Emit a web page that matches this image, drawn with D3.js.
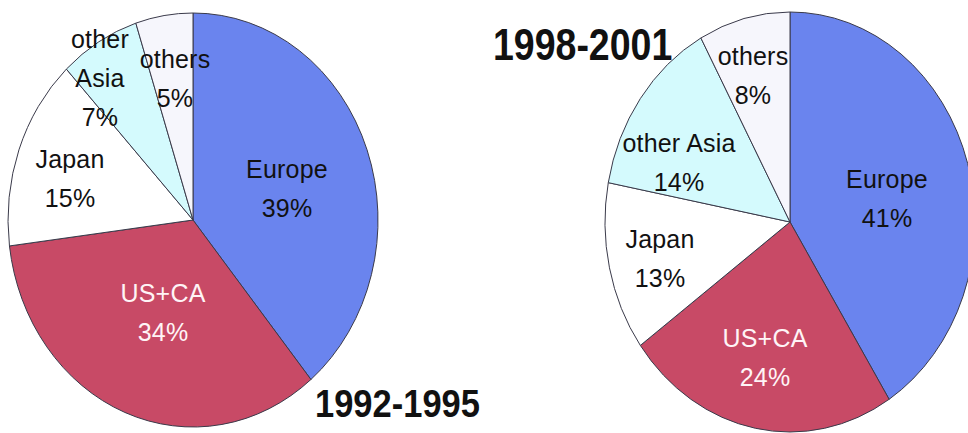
<!DOCTYPE html>
<html>
<head>
<meta charset="utf-8">
<script src="https://cdn.jsdelivr.net/npm/d3@7/dist/d3.min.js"></script>
<style>
  html, body { margin: 0; padding: 0; background: #ffffff; }
  svg { display: block; }
  text { font-family: "Liberation Sans", Arial, sans-serif; }
</style>
</head>
<body>
<svg id="chart" width="968" height="433"></svg>
<script>
// ---- data ----
const regions = ["Europe", "US+CA", "Japan", "other Asia", "others"];
const share1992 = [39, 34, 15, 7, 5];
const share1998 = [41, 24, 13, 14, 8];
const periods = ["1992-1995", "1998-2001"];

// ---- styling / layout ----
const colors = ["#6a84ee", "#c84a66", "#ffffff", "#d4fafd", "#f6f6fc"];
const labelFill = ["#111", "#fff4f6", "#111", "#111", "#111"];

const pies = [
  { values: share1992, cx: 193, cy: 220, rx: 185, ry: 207, title: periods[0],
    titleX: 315, titleY: 417, titleSize: 34.5, titleSY: 1.13,
    labels: [
      { dx: 94, dy: -42, lines: ["Europe", "39%"] },
      { dx: -30, dy: 82, lines: ["US+CA", "34%"] },
      { dx: -123, dy: -52, lines: ["Japan", "15%"] },
      { dx: -93, dy: -172, lines: ["other", "Asia", "7%"] },
      { dx: -18, dy: -152, lines: ["others", "5%"] }
    ] },
  { values: share1998, cx: 790, cy: 222, rx: 185, ry: 210, title: periods[1],
    titleX: 493, titleY: 60, titleSize: 37.5, titleSY: 1.17,
    labels: [
      { dx: 97, dy: -34, lines: ["Europe", "41%"] },
      { dx: -25, dy: 125, lines: ["US+CA", "24%"] },
      { dx: -130, dy: 26, lines: ["Japan", "13%"] },
      { dx: -111, dy: -70, lines: ["other Asia", "14%"] },
      { dx: -37, dy: -157, lines: ["others", "8%"] }
    ] }
];

const svg = d3.select("#chart");
const pieGen = d3.pie().sort(null).value(d => d);

pies.forEach(p => {
  const arc = d3.arc().innerRadius(0).outerRadius(p.rx);
  const g = svg.append("g")
    .attr("transform", `translate(${p.cx},${p.cy}) scale(1,${p.ry / p.rx})`);

  g.selectAll("path")
    .data(pieGen(p.values))
    .join("path")
    .attr("d", arc)
    .attr("fill", (d, i) => colors[i])
    .attr("stroke", "#3a3a4a")
    .attr("stroke-width", 1)
    .attr("vector-effect", "non-scaling-stroke");

  const lg = svg.append("g");
  p.labels.forEach((lab, i) => {
    const t = lg.append("text")
      .attr("x", p.cx + lab.dx)
      .attr("y", p.cy + lab.dy)
      .attr("text-anchor", "middle")
      .attr("font-size", 25)
      .attr("letter-spacing", 0.2)
      .attr("fill", labelFill[i]);
    lab.lines.forEach((ln, k) => {
      t.append("tspan")
        .attr("x", p.cx + lab.dx)
        .attr("dy", k === 0 ? 0 : 39)
        .text(ln);
    });
  });

  svg.append("text")
    .attr("transform", `translate(${p.titleX},${p.titleY}) scale(1,${p.titleSY})`)
    .attr("font-size", p.titleSize)
    .attr("font-weight", "bold")
    .attr("fill", "#111")
    .text(p.title);
});
</script>
</body>
</html>
